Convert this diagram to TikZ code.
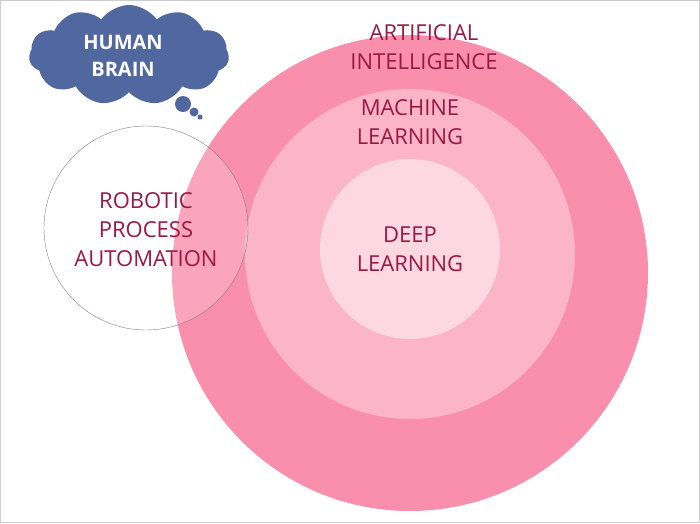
\documentclass[tikz,border=0pt]{standalone}
\usepackage{fontspec}
\setmainfont{Open Sans}
\usetikzlibrary{shapes.symbols}
\definecolor{outerpink}{HTML}{F98FAD}
\definecolor{midpink}{HTML}{FCB4C8}
\definecolor{innerpink}{HTML}{FDD7E1}
\definecolor{labelred}{HTML}{9A1846}
\definecolor{cloudblue}{HTML}{5067A0}
\tikzset{
    ring/.style = {
        circle,
        inner sep=0pt
    },
    label/.style = {
        text=labelred,
        font=\fontsize{22}{29}\selectfont,
        align=center
    },
    bubble/.style = {
        circle,
        fill=cloudblue,
        inner sep=0pt
    },
}
\begin{document}
\begin{tikzpicture}[x=1pt,y=-1pt]
    \useasboundingbox (0,0) rectangle (700,523);
    \draw[gray!40] (0.5,0.5) rectangle (699.5,522.5);

    \node[ring,fill=outerpink,minimum size=476pt] (ai) at (410,273) {};
    \node[ring,fill=midpink,minimum size=330pt] (ml) at (410,254) {};
    \node[ring,fill=innerpink,minimum size=180pt] (dl) at (410,249) {};
    \node[ring,draw=gray,fill=white,fill opacity=0.2,minimum size=204pt] (rpa) at (146,228) {};

    \node[label] (ailabel) at (424,47) {ARTIFICIAL\\INTELLIGENCE};
    \node[label] (mllabel) at (410,122) {MACHINE\\LEARNING};
    \node[label] (dllabel) at (410,249) {DEEP\\LEARNING};
    \node[label] (rpalabel) at (146,230) {ROBOTIC\\PROCESS\\AUTOMATION};

    \node[cloud,cloud puffs=11,cloud puff arc=110,aspect=2.3,fill=cloudblue,
        minimum width=200pt,minimum height=100pt,inner sep=0pt] (brain) at (129,55) {};
    \node[text=white,font=\bfseries\fontsize{20}{27}\selectfont,align=center] (brainlabel) at (123,56) {HUMAN\\BRAIN};
    \node[bubble,minimum size=16pt] (b1) at (183,104) {};
    \node[bubble,minimum size=9pt] (b2) at (194,112) {};
    \node[bubble,minimum size=5pt] (b3) at (200,117) {};
\end{tikzpicture}
\end{document}
